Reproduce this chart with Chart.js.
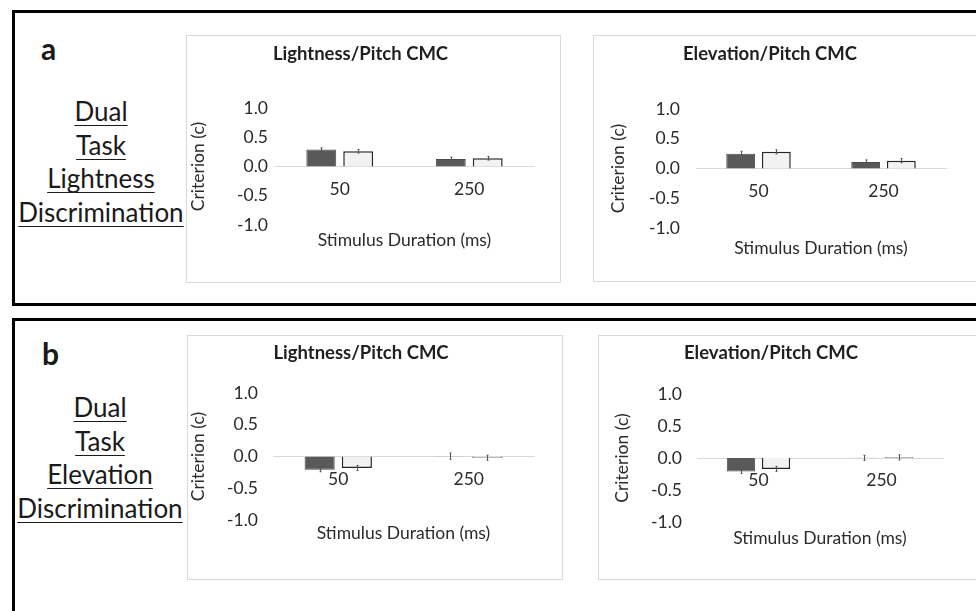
<!DOCTYPE html>
<html>
<head>
<meta charset="utf-8">
<script src="https://cdn.jsdelivr.net/npm/chart.js@4.4.1/dist/chart.umd.min.js"></script>
<style>
  body { margin: 0; width: 976px; height: 611px; overflow: hidden; position: relative; background: #fff; font-family: Lato, 'Open Sans', sans-serif; color: #1a1a1a; }
  .panel { position: absolute; border: 3px solid #000; box-sizing: border-box; }
  .letter { position: absolute; font-weight: bold; font-size: 30px; line-height: 30px; }
  .side { position: absolute; width: 204px; text-align: center; font-size: 26px; line-height: 33.6px; }
  .side span { text-decoration: underline; text-decoration-thickness: 1px; text-underline-offset: 4px; }
  .box { position: absolute; border: 1px solid #d9d9d9; box-sizing: border-box; }
  .box canvas { position: absolute; left: 0; top: 0; }
</style>
</head>
<body>
<div class="panel" style="left:12px; top:10px; width:1000px; height:296px;"></div>
<div class="panel" style="left:12px; top:318px; width:1000px; height:400px;"></div>

<div class="letter" style="left:41px; top:33px;">a</div>
<div class="letter" style="left:42px; top:338px;">b</div>

<div class="side" style="left:-1px; top:95px;">
  <div><span>Dual</span></div>
  <div><span>Task</span></div>
  <div><span>Lightness</span></div>
  <div><span>Discrimination</span></div>
</div>
<div class="side" style="left:-2px; top:391px;">
  <div><span>Dual</span></div>
  <div><span>Task</span></div>
  <div><span>Elevation</span></div>
  <div><span>Discrimination</span></div>
</div>

<div class="box" id="boxA1"><canvas id="chartA1"></canvas></div>
<div class="box" id="boxA2"><canvas id="chartA2"></canvas></div>
<div class="box" id="boxB1"><canvas id="chartB1"></canvas></div>
<div class="box" id="boxB2"><canvas id="chartB2"></canvas></div>

<script>
// Data
const categories = ['50', '250'];
const yTicks = [-1.0, -0.5, 0.0, 0.5, 1.0];
const seriesNames = ['Series 1', 'Series 2'];

// panel a: dual task, lightness discrimination
const aLightnessDark = [0.29, 0.13];
const aLightnessLight = [0.26, 0.14];
const aLightnessDarkErr = [0.03, 0.03];
const aLightnessLightErr = [0.03, 0.03];

const aElevationDark = [0.25, 0.11];
const aElevationLight = [0.28, 0.13];
const aElevationDarkErr = [0.04, 0.035];
const aElevationLightErr = [0.035, 0.035];

// panel b: dual task, elevation discrimination
const bLightnessDark = [-0.21, 0.005];
const bLightnessLight = [-0.18, -0.02];
const bLightnessDarkErr = [0.03, 0.05];
const bLightnessLightErr = [0.04, 0.04];

const bElevationDark = [-0.21, 0.003];
const bElevationLight = [-0.17, 0.01];
const bElevationDarkErr = [0.03, 0.04];
const bElevationLightErr = [0.04, 0.04];

const FONT = 'Lato';
const TEXT = '#2b2b2b';

// error bars drawn from each bar element and the y scale
const errorBars = {
  id: 'errorBars',
  afterDatasetsDraw(chart) {
    const ctx = chart.ctx;
    const y = chart.scales.y;
    chart.data.datasets.forEach((ds, i) => {
      chart.getDatasetMeta(i).data.forEach((bar, j) => {
        const v = ds.data[j], e = ds.errors[j];
        const t = y.getPixelForValue(v + e), b = y.getPixelForValue(v - e);
        const x = Math.round(bar.x) + 0.5;
        ctx.save();
        ctx.strokeStyle = '#555555';
        ctx.lineWidth = 1;
        ctx.beginPath();
        ctx.moveTo(x, t); ctx.lineTo(x, b);
        ctx.moveTo(x - 1, t); ctx.lineTo(x + 1, t);
        ctx.moveTo(x - 1, b); ctx.lineTo(x + 1, b);
        ctx.stroke();
        ctx.restore();
      });
    });
  }
};

// x axis title sits under the plot, centred on it
const xTitle = {
  id: 'xTitle',
  afterDraw(chart, args, opts) {
    const ctx = chart.ctx, ca = chart.chartArea;
    ctx.save();
    ctx.font = opts.size + 'px ' + FONT;
    ctx.fillStyle = TEXT;
    ctx.textAlign = 'center';
    ctx.textBaseline = 'middle';
    ctx.fillText(opts.text, (ca.left + ca.right) / 2, ca.bottom + opts.offset);
    ctx.restore();
  }
};

function makeChart(id, boxId, title, dark, light, darkErr, lightErr, g) {
  const box = document.getElementById(boxId);
  box.style.left = g.left + 'px';
  box.style.top = g.top + 'px';
  box.style.width = g.w + 'px';
  box.style.height = g.h + 'px';
  const cv = document.getElementById(id);
  cv.width = g.w - 2;
  cv.height = g.h - 2;
  const o = 1; // border offset
  const titleSize = 18.5, titleLh = titleSize * 1.2;
  const axSize = 17.5, axLh = axSize * 1.2;

  return new Chart(cv, {
    type: 'bar',
    data: {
      labels: categories,
      datasets: [
        { label: seriesNames[0], data: dark, errors: darkErr,
          backgroundColor: '#595959', borderColor: '#4a4a4a', borderWidth: 1,
          categoryPercentage: 0.57, barPercentage: 0.81 },
        { label: seriesNames[1], data: light, errors: lightErr,
          backgroundColor: '#f2f2f2', borderColor: '#262626', borderWidth: 1.5,
          categoryPercentage: 0.57, barPercentage: 0.81 }
      ]
    },
    options: {
      responsive: false,
      animation: false,
      layout: { padding: { left: 0, right: g.w - g.plotR - o, bottom: g.h - g.plotB - o, top: 0 } },
      plugins: {
        legend: { display: false },
        tooltip: { enabled: false },
        title: {
          display: true, text: title, color: '#1f1f1f',
          font: { family: FONT, size: titleSize, weight: 'bold', lineHeight: 1.2 },
          padding: { top: g.titleY - o - titleLh / 2, bottom: g.plotT - g.titleY - titleLh / 2 }
        },
        xTitle: { text: 'Stimulus Duration (ms)', size: axSize, offset: g.xTitleY - g.plotB }
      },
      scales: {
        x: {
          type: 'category',
          position: { y: 0 },
          offset: true,
          grid: { display: false, drawTicks: false },
          border: { display: true, color: '#d9d9d9', width: 1 },
          ticks: { color: TEXT, padding: 12, font: { family: FONT, size: axSize } }
        },
        y: {
          min: -1, max: 1,
          grid: { display: false, drawTicks: false },
          border: { display: false },
          afterBuildTicks: s => { s.ticks = yTicks.map(v => ({ value: v })); },
          afterFit: s => { s.width = g.plotL - o; },
          ticks: { color: TEXT, padding: g.tickGap, font: { family: FONT, size: axSize },
                   callback: v => Number(v).toFixed(1) },
          title: { display: true, text: 'Criterion (c)', color: TEXT,
                   font: { family: FONT, size: axSize, lineHeight: 1.2 },
                   padding: { top: Math.max(0, g.yTitleX - o - axLh / 2), bottom: 0 } }
        }
      }
    },
    plugins: [errorBars, xTitle]
  });
}

makeChart('chartA1', 'boxA1', 'Lightness/Pitch CMC', aLightnessDark, aLightnessLight, aLightnessDarkErr, aLightnessLightErr,
  { left: 186, top: 35, w: 375, h: 248, plotL: 89, plotR: 348, plotT: 73, plotB: 190, titleY: 19, xTitleY: 205, yTitleX: 12, tickGap: 7 });
makeChart('chartA2', 'boxA2', 'Elevation/Pitch CMC', aElevationDark, aElevationLight, aElevationDarkErr, aElevationLightErr,
  { left: 593, top: 35, w: 389, h: 247, plotL: 103, plotR: 353, plotT: 74, plotB: 193, titleY: 19, xTitleY: 213, yTitleX: 25, tickGap: 16 });
makeChart('chartB1', 'boxB1', 'Lightness/Pitch CMC', bLightnessDark, bLightnessLight, bLightnessDarkErr, bLightnessLightErr,
  { left: 187, top: 335, w: 376, h: 245, plotL: 86, plotR: 347, plotT: 58, plotB: 185, titleY: 18, xTitleY: 198, yTitleX: 10, tickGap: 15 });
makeChart('chartB2', 'boxB2', 'Elevation/Pitch CMC', bElevationDark, bElevationLight, bElevationDarkErr, bElevationLightErr,
  { left: 598, top: 335, w: 379, h: 245, plotL: 99, plotR: 345, plotT: 59, plotB: 187, titleY: 18, xTitleY: 203, yTitleX: 24, tickGap: 15 });
</script>
</body>
</html>
